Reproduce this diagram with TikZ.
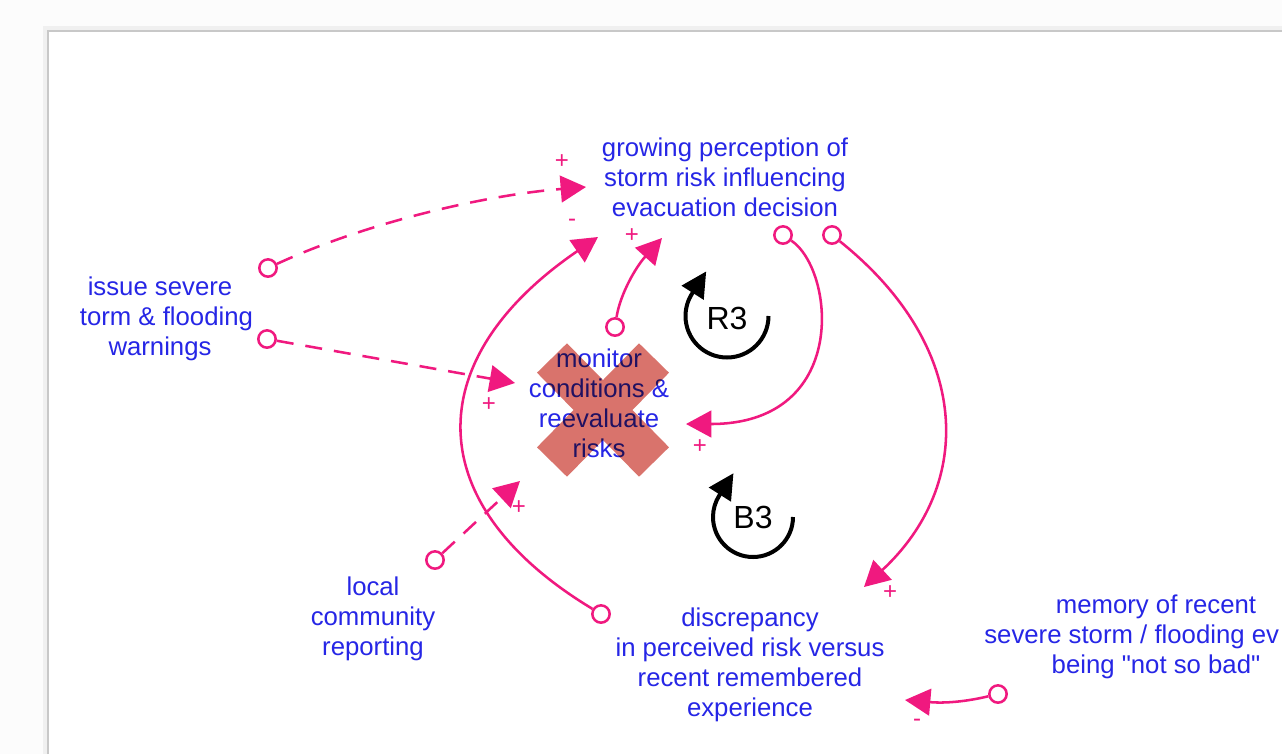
\documentclass[tikz,border=0pt]{standalone}
\usepackage{fontspec}
\setmainfont{Liberation Sans}[Ligatures=TeXOff]
\usetikzlibrary{arrows.meta}
\definecolor{ink}{HTML}{2626E6}
\definecolor{wire}{HTML}{F0197F}
\definecolor{cross}{HTML}{D9736C}
\definecolor{edge}{HTML}{C8C8C8}

\begin{document}
\begin{tikzpicture}[
  x=0.75pt, y=-0.75pt,
  >={Triangle[length=19pt,width=20pt]},
  var/.style={align=center,text=ink,inner sep=0pt,
    font=\fontsize{19.3}{22.5}\selectfont},
  link/.style={->,draw=wire,line width=1.9pt},
  dashlink/.style={link,dash pattern=on 12.75pt off 9pt},
  tail/.style={circle,draw=wire,fill=white,line width=1.9pt,
    minimum size=13pt,inner sep=0pt},
  sign/.style={text=wire,inner sep=0pt,font=\fontsize{18}{18}\selectfont},
  loopline/.style={line width=3pt,-{Triangle[length=19pt,width=19pt]}},
  looplbl/.style={inner sep=0pt,font=\fontsize{24}{24}\selectfont},
  crossbar/.style={draw=cross,line width=31.5pt,line cap=butt,
    blend mode=multiply}
]
  \useasboundingbox (0,0) rectangle (1282,754);
  \fill[gray!2] (0,0) rectangle (1282,754);
  \draw[gray!12,line width=3pt] (45,754) -- (45,28) -- (1282,28);
  \fill[white] (48,31) rectangle (1282,754);
  \draw[edge,line width=1.5pt] (48,754) -- (48,31) -- (1282,31);

  \node[var] (perc) at (725,177)
    {growing perception of\\storm risk influencing\\evacuation decision};
  \node[var] (warn) at (160,319)
    {issue severe\\\hphantom{s}torm \& flooding\\warnings};
  \node[var] (monitor) at (599,403)
    {monitor\\conditions \&\\reevaluate\\risks};
  \node[var] (local) at (373,619) {local\\community\\reporting};
  \node[var] (discr) at (750,665)
    {discrepancy\\in perceived risk versus\\recent remembered\\experience};
  \node[var] (memory) at (1156,637)
    {memory of recent\\severe storm / flooding ev\hphantom{ents}\\being "not so bad"};

  \draw[crossbar] (552,358) -- (654,462) (654,358) -- (552,462);

  \node[tail] (warn-a) at (268,268) {};
  \node[tail] (warn-b) at (267,339) {};
  \node[tail] (discr-o) at (601,614) {};
  \node[tail] (mon-o) at (615,327) {};
  \node[tail] (perc-o1) at (783,235) {};
  \node[tail] (perc-o2) at (832,235) {};
  \node[tail] (local-o) at (435,560) {};
  \node[tail] (mem-o) at (998,694) {};

  \coordinate (to-perc1) at (586,187);
  \coordinate (to-mon1) at (515,383);
  \coordinate (to-perc2) at (598,237);
  \coordinate (to-perc3) at (662,238);
  \coordinate (to-mon2) at (686,424);
  \coordinate (to-discr1) at (864,587);
  \coordinate (to-mon3) at (520,481);
  \coordinate (to-discr2) at (905,700);

  \draw[dashlink] (warn-a) .. controls (368,222) and (486,195) .. (to-perc1);
  \draw[dashlink] (warn-b) -- (to-mon1);
  \draw[link] (discr-o) .. controls (420,505) and (418,360) .. (to-perc2);
  \draw[link] (mon-o) .. controls (620,295) and (635,268) .. (to-perc3);
  \draw[link] (perc-o1) .. controls (835,270) and (850,424) .. (to-mon2);
  \draw[link] (perc-o2) .. controls (973,348) and (974,485) .. (to-discr1);
  \draw[dashlink] (local-o) -- (to-mon3);
  \draw[link] (mem-o) .. controls (960,703) and (940,703) .. (to-discr2);

  \node[sign] (s1) at (562,162) {+};
  \node[sign] (s2) at (489,405) {+};
  \node[sign] (s3) at (572,223) {-};
  \node[sign] (s4) at (632,236) {+};
  \node[sign] (s5) at (700,447) {+};
  \node[sign] (s6) at (890,593) {+};
  \node[sign] (s7) at (519,508) {+};
  \node[sign] (s8) at (917,723) {-};

  \node[looplbl] (r3) at (727,318) {R3};
  \draw[loopline] (r3.center) ++(41.5,-2)
    arc[start angle=0,end angle=213,radius=41.5] -- ++(14,-22);
  \node[looplbl] (b3) at (753,517) {B3};
  \draw[loopline] (b3.center) ++(40,0)
    arc[start angle=0,end angle=213,radius=40] -- ++(14,-22);
\end{tikzpicture}
\end{document}
